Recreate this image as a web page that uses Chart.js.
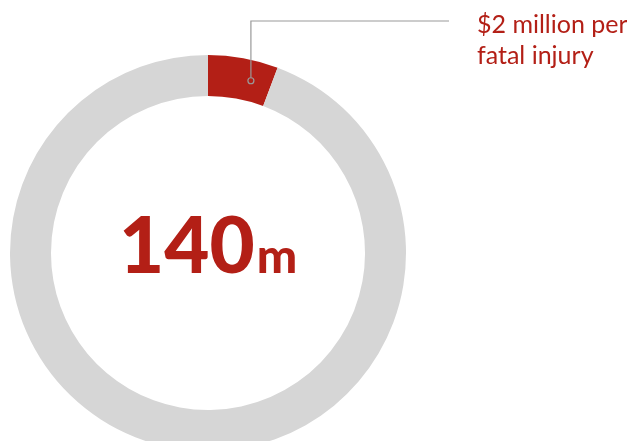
<!DOCTYPE html>
<html>
<head>
<meta charset="utf-8">
<script src="https://cdn.jsdelivr.net/npm/chart.js@4"></script>
<style>
  html, body { margin: 0; padding: 0; background: #fff; overflow: hidden; }
  #wrap { width: 627px; height: 441px; overflow: hidden; position: relative; }
</style>
</head>
<body>
<div id="wrap"><canvas id="c" width="627" height="470"></canvas></div>
<script>
// data
var labels = ['$2 million per fatal injury', 'Other'];
var values = [8, 132];
var colours = ['#b31f16', '#d6d6d6'];
var totalLabel = '140';
var unitLabel = 'm';
var noteLines = ['$2 million per', 'fatal injury'];

var red = '#b31f16';

// draws the leader line, note text and the total in the middle
var notes = {
  id: 'notes',
  afterDraw: function(chart) {
    var ctx = chart.ctx;
    var arc = chart.getDatasetMeta(0).data[0];
    var cx = arc.x, cy = arc.y;
    var r = (arc.innerRadius + arc.outerRadius) / 2;
    var a = arc.startAngle + (arc.endAngle - arc.startAngle) * 0.68;
    var px = cx + Math.cos(a) * r;
    var py = cy + Math.sin(a) * r;

    ctx.save();
    // leader
    ctx.strokeStyle = '#9a9a9a';
    ctx.lineWidth = 1.2;
    ctx.beginPath();
    ctx.moveTo(px, py - 3);
    ctx.lineTo(px, 21);
    ctx.lineTo(449, 21);
    ctx.stroke();
    ctx.beginPath();
    ctx.arc(px, py, 3, 0, Math.PI * 2);
    ctx.stroke();

    // note text
    ctx.fillStyle = red;
    ctx.font = '25px Lato';
    ctx.textBaseline = 'alphabetic';
    ctx.textAlign = 'left';
    ctx.fillText(noteLines[0], 477, 33);
    ctx.fillText(noteLines[1], 477, 64);

    // total
    ctx.font = '900 78px Lato';
    var w1 = ctx.measureText(totalLabel).width;
    ctx.fillText(totalLabel, 119, 273);
    ctx.font = '900 48px Lato';
    ctx.fillText(unitLabel, 119 + w1 + 2, 273);
    ctx.restore();
  }
};

var ctx = document.getElementById('c').getContext('2d');
var chart = new Chart(ctx, {
  type: 'doughnut',
  data: {
    labels: labels,
    datasets: [{
      data: values,
      backgroundColor: colours,
      borderWidth: 0
    }]
  },
  options: {
    responsive: false,
    animation: false,
    cutout: '79.3%',
    layout: { padding: { left: 10, top: 55, right: 221, bottom: 19 } },
    plugins: {
      legend: { display: false },
      tooltip: { enabled: false }
    }
  },
  plugins: [notes]
});
</script>
</body>
</html>
